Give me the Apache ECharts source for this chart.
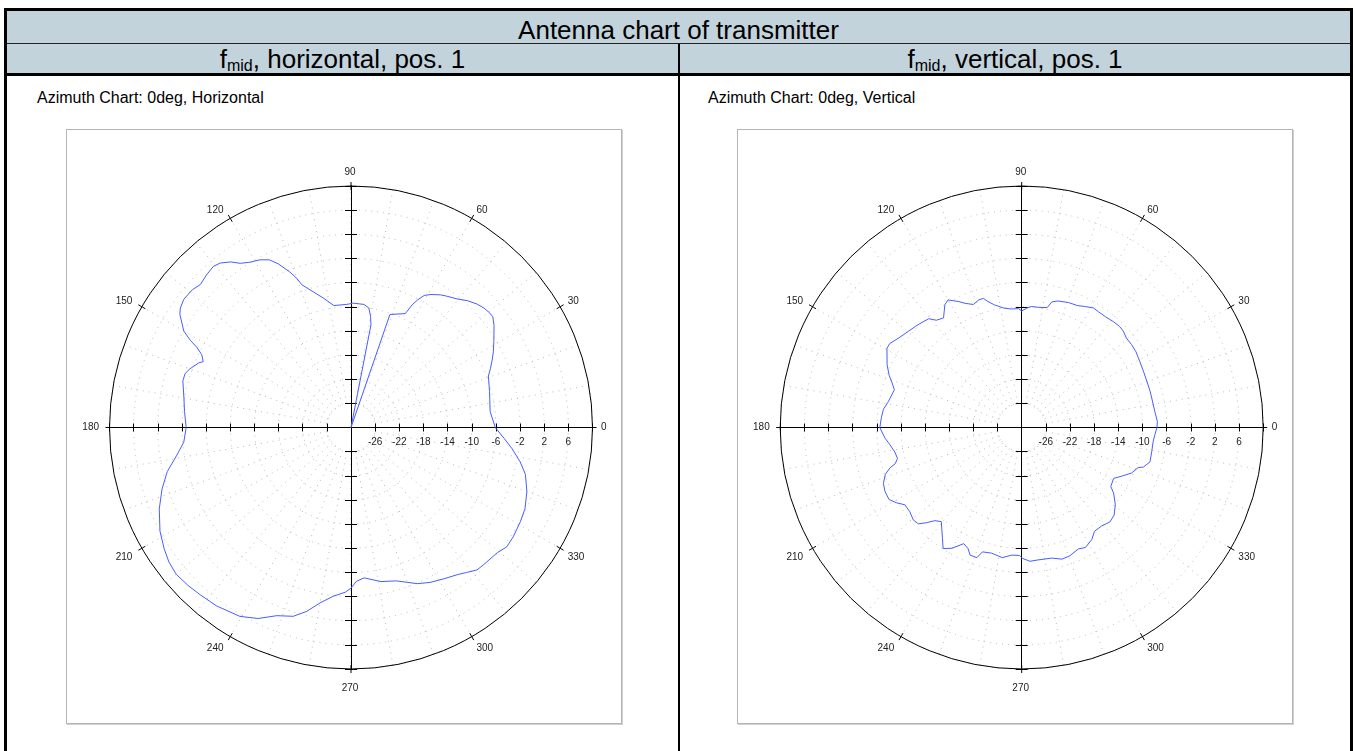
<!DOCTYPE html>
<html>
<head>
<meta charset="utf-8">
<title>Antenna chart of transmitter</title>
<script src="https://cdn.jsdelivr.net/npm/echarts@6/dist/echarts.min.js"></script>
<style>
  html, body { margin: 0; padding: 0; background: #fff; width: 1355px; height: 751px; overflow: hidden;
    font-family: "Liberation Sans", Arial, Helvetica, sans-serif; color: #000; }
  .abs { position: absolute; box-sizing: border-box; }
  #frame { left: 4px; top: 8px; width: 1349px; height: 800px; border: 3px solid #000; }
  #titleRow { left: 7px; top: 11px; width: 1343px; height: 33px; background: #c3d3dc;
    border-bottom: 1px solid #222; text-align: center; font-size: 26px; line-height: 38px; white-space: nowrap; }
  .subRow { top: 44px; height: 29px; background: #c3d3dc; text-align: center; font-size: 26px; line-height: 31px; white-space: nowrap; }
  .subRow sub { font-size: 16px; vertical-align: baseline; position: relative; top: 3px; }
  #subLeft { left: 7px; width: 671px; }
  #subRight { left: 680px; width: 670px; }
  #headRule { left: 7px; top: 73px; width: 1343px; height: 3px; background: #000; }
  #divider { left: 678px; top: 44px; width: 2px; height: 720px; background: #000; }
  .caption { top: 89px; font-size: 16px; line-height: 18px; white-space: nowrap; }
  .box { top: 129px; width: 556px; height: 595px; border: 1px solid #b4b4b4; box-shadow: 1px 1px 0 #d0d0d0; background: #fff; }
  #chart { left: 0; top: 0; width: 1355px; height: 751px; z-index: 5; }
</style>
</head>
<body>
<div class="abs" id="frame"></div>
<div class="abs" id="titleRow">Antenna chart of transmitter</div>
<div class="abs subRow" id="subLeft">f<sub>mid</sub>, horizontal, pos. 1</div>
<div class="abs subRow" id="subRight">f<sub>mid</sub>, vertical, pos. 1</div>
<div class="abs" id="headRule"></div>
<div class="abs" id="divider"></div>
<div class="abs caption" style="left:37px">Azimuth Chart: 0deg, Horizontal</div>
<div class="abs caption" style="left:708px">Azimuth Chart: 0deg, Vertical</div>
<div class="abs box" style="left:66px"></div>
<div class="abs box" style="left:737px"></div>
<div class="abs" id="chart"></div>
<script>
// Measured gain (dB) versus azimuth angle (deg), horizontal polarisation
const H_ANGLES = [0, 6.5, 14.5, 20.5, 23, 25.5, 28, 31, 35.5, 38, 39.5, 42, 44.5, 47.5, 50.5, 54, 56, 59, 61, 62.5,
  63.5, 64.5, 71, 74, 77, 79, 80, 81.5, 84, 89, 92, 98, 102, 105.5, 109, 110, 111.5, 114, 116, 118.5,
  121.5, 124, 126, 128.5, 130.5, 133.5, 136.5, 139, 142.5, 145, 146.5, 148.5, 150, 151.5, 152.5, 154, 156, 157, 160, 162,
  164.5, 170, 174.5, 180, 185, 189, 193.5, 198, 203, 208.5, 213, 216.5, 220, 224, 228, 233, 239.5, 244, 248.5, 253,
  256.5, 260, 264, 268, 270, 272, 275, 281, 286.5, 293, 297, 301.5, 306, 308.5, 311.5, 314, 319.5, 322.5, 326, 331,
  335, 340, 345, 348.5, 352.5, 356, 360];
const H_GAIN = [-6.1, -6.8, -6.3, -5.7, -4.9, -4.1, -3.3, -2.4, -0.9, -0.2, -0.2, -0.4, -0.8, -1.5, -2.4, -3.1, -3.5, -4.3, -5.0, -6.2,
  -7.3, -9.1, -10.2, -30, -30, -12.7, -11.3, -10.0, -9.5, -9.4, -9.6, -9.6, -8.1, -6.7, -5.0, -3.7, -2.3, -0.3, 0.9, 1.6,
  2.1, 2.8, 3.9, 4.8, 5.1, 4.8, 4.4, 4.8, 4.9, 4.5, 4.0, 2.8, 2.0, 0.3, -1.2, -2.5, -3.2, -2.6, -1.6, -1.1,
  -1.1, -1.9, -2.3, -2.7, -2.2, -0.8, 1.3, 2.9, 4.5, 6.0, 6.9, 7.5, 7.8, 7.6, 7.3, 7.0, 6.3, 5.2, 3.5, 2.7,
  1.3, -0.5, -1.9, -2.7, -3.4, -4.5, -5.0, -4.0, -3.5, -1.9, -1.2, -0.6, 0.1, 0.7, 1.5, 1.6, 1.9, 2.5, 2.4, 2.1,
  1.8, 1.0, -0.1, -1.4, -3.1, -4.6, -6.1];

// Measured gain (dB) versus azimuth angle (deg), vertical polarisation
const V_ANGLES = [0, 2.5, 7, 11, 15.5, 20, 24.5, 29, 33.5, 37, 40.5, 43.5, 46, 49, 53, 56.5, 59, 62.5, 65.5, 69.5,
  74, 76.5, 78, 82, 85.5, 87.5, 90, 91.5, 95, 98.5, 102.5, 105, 106.5, 108.5, 111.5, 114.5, 116.5, 120, 122, 125.5,
  128.5, 130.5, 134.5, 136.5, 139.5, 144, 147.5, 149.5, 155, 158.5, 161, 163.5, 166, 169, 172.5, 176, 180, 184.5, 187.5, 191,
  194, 196, 197, 199, 202, 205, 208.5, 211, 213.5, 217, 220.5, 223, 225, 227, 229.5, 234.5, 237, 240, 243.5, 246,
  248, 251, 252.5, 256.5, 261.5, 265.5, 269, 270.5, 273.5, 277, 283, 287, 290.5, 295, 298, 302, 305, 309, 313, 316.5,
  320.5, 324.5, 326.5, 331, 334, 337.5, 341, 342, 345, 349.5, 354, 357, 360];
const V_GAIN = [-7.6, -7.5, -7.8, -7.9, -7.9, -7.9, -7.8, -7.6, -7.3, -7.2, -7.2, -6.8, -6.7, -6.8, -7.0, -7.0, -6.9, -7.4, -7.8, -7.9,
  -8.2, -8.6, -9.7, -9.9, -9.9, -10.2, -10.7, -10.3, -10.3, -10.0, -9.2, -8.4, -7.7, -7.7, -8.1, -7.4, -6.7, -5.6, -6.0, -7.7,
  -7.3, -6.3, -5.9, -5.7, -5.4, -4.8, -4.1, -4.1, -5.4, -6.4, -7.3, -8.0, -7.8, -7.5, -6.9, -6.7, -6.5, -7.3, -8.0, -8.6,
  -8.8, -8.2, -7.2, -6.1, -5.3, -5.0, -5.0, -5.8, -6.8, -6.8, -6.4, -6.6, -7.7, -8.9, -9.5, -7.4, -6.1, -6.9, -8.5, -8.1,
  -7.2, -7.2, -8.4, -8.6, -8.2, -8.8, -8.8, -8.3, -7.8, -7.9, -7.8, -7.2, -7.3, -7.8, -7.5, -8.1, -9.0, -9.0, -8.6, -8.9,
  -9.9, -11.3, -12.3, -12.6, -11.6, -10.3, -9.6, -8.8, -8.0, -8.1, -8.1, -7.9, -7.6];

// Radial scale (dB) and angular scale (deg)
const RADIUS_MIN = -30;
const RADIUS_MAX = 10;
const RADIUS_STEP = 4;
const ANGLE_STEP = 30;

// Layout of the two polar plots (pixels)
const PANELS = [
  { cx: 351, angles: H_ANGLES, gain: H_GAIN },
  { cx: 1021.7, angles: V_ANGLES, gain: V_GAIN }
];
const CY = 427.5;
const R = 241.5;

const SPAN = RADIUS_MAX - RADIUS_MIN;
const BLACK = '#000';
const DOT = { type: [1, 5], color: '#b8b8b8', width: 1 };
const LABEL = { fontSize: 10, color: '#222', fontFamily: '"Liberation Sans", Arial, sans-serif' };

const polar = [], angleAxis = [], radiusAxis = [], grid = [], xAxis = [], yAxis = [], series = [];

const isVertical = v => v % 180 === 90;

PANELS.forEach((p, i) => {
  const main = 2 * i, overlay = 2 * i + 1;
  polar.push({ center: [p.cx, CY], radius: R }, { center: [p.cx, CY], radius: [R / 10, R] });

  // Main angular axis: outer circle, outward ticks, oblique labels
  angleAxis.push({
    polarIndex: main, type: 'value', min: 0, max: 360, interval: ANGLE_STEP,
    startAngle: 0, clockwise: false,
    axisLine: { lineStyle: { color: BLACK, width: 1 } },
    axisTick: { length: 4, lineStyle: { color: BLACK } },
    axisLabel: Object.assign({
      margin: 7.5, padding: [0, 3, -3, 1],
      formatter: v => (v === 360 || isVertical(v) ? '' : String(v))
    }, LABEL),
    splitLine: { show: false }
  }, {
    // Companion axis: inward ticks, dotted spokes, labels at 90 / 270
    polarIndex: overlay, type: 'value', min: 0, max: 360, interval: ANGLE_STEP,
    startAngle: 0, clockwise: false,
    axisLine: { show: false },
    axisTick: { inside: true, length: 4, lineStyle: { color: BLACK } },
    axisLabel: Object.assign({
      margin: 9.5, padding: [5, 3, -1, 1],
      formatter: v => (isVertical(v) ? String(v) : '')
    }, LABEL),
    splitLine: { show: true, lineStyle: DOT },
    minorTick: { show: false, splitNumber: 3 },
    minorSplitLine: { show: true, lineStyle: DOT }
  });

  radiusAxis.push({
    polarIndex: main, type: 'value', min: RADIUS_MIN, max: RADIUS_MAX, interval: RADIUS_STEP,
    axisLine: { show: false }, axisTick: { show: false }, axisLabel: { show: false },
    splitLine: { show: true, lineStyle: DOT }
  }, {
    polarIndex: overlay, type: 'value', min: RADIUS_MIN + RADIUS_STEP, max: RADIUS_MAX, interval: RADIUS_STEP,
    axisLine: { show: false }, axisTick: { show: false }, axisLabel: { show: false },
    splitLine: { show: false }
  });

  // Cross-hair axes through the centre, measured as distance from the centre in dB.
  // Each edge axis is pulled inwards by the plot radius so all four meet at the centre.
  grid.push({ left: p.cx - R, top: CY - R, width: 2 * R, height: 2 * R, containLabel: false });
  const crossAxis = (position, labelled, tickLen) => ({
    gridIndex: i, type: 'value', position, offset: -R, min: -SPAN, max: SPAN, interval: RADIUS_STEP,
    axisLine: { onZero: false, lineStyle: { color: BLACK, width: 1 } },
    axisTick: { length: tickLen, lineStyle: { color: BLACK } },
    axisLabel: labelled
      ? Object.assign({ margin: 10, formatter: v => (v > 0 && v < SPAN ? String(v + RADIUS_MIN) : '') }, LABEL)
      : { show: false },
    splitLine: { show: false }
  });
  xAxis.push(crossAxis('bottom', true, 4), crossAxis('top', false, 4));
  yAxis.push(crossAxis('left', false, 6), crossAxis('right', false, 6));

  series.push({
    type: 'line', coordinateSystem: 'polar', polarIndex: main,
    data: p.angles.map((a, k) => [p.gain[k], a]),
    showSymbol: false, smooth: false, silent: true, z: 3,
    lineStyle: { color: '#4a5cff', width: 1 }
  });
});

const chart = echarts.init(document.getElementById('chart'), null, { renderer: 'canvas' });
chart.setOption({
  animation: false,
  backgroundColor: 'transparent',
  polar, angleAxis, radiusAxis, grid, xAxis, yAxis, series
});
</script>
</body>
</html>
